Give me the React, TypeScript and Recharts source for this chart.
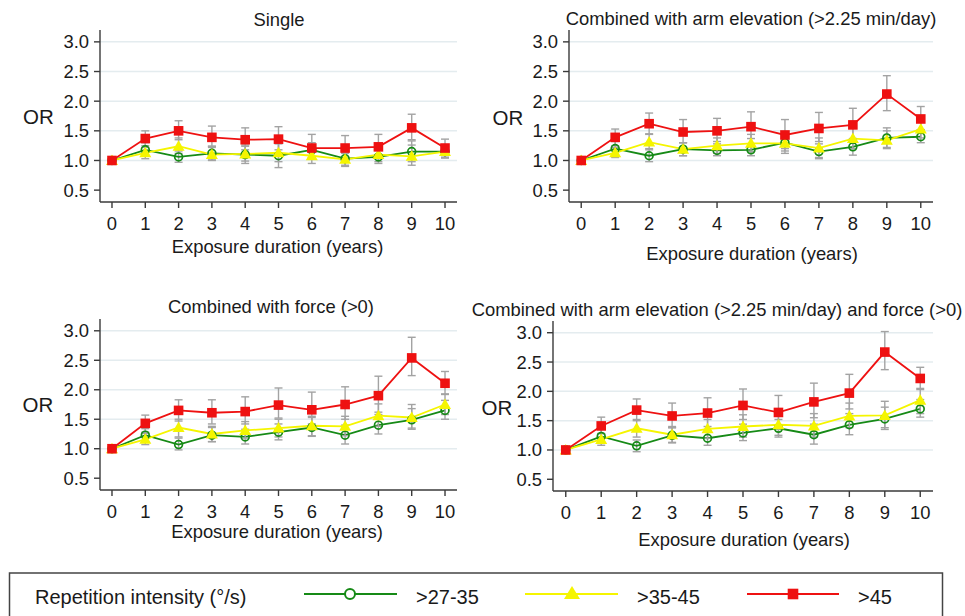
import React from 'react';
import { LineChart, Line, XAxis, YAxis, CartesianGrid, ErrorBar } from 'recharts';

const years = [0, 1, 2, 3, 4, 5, 6, 7, 8, 9, 10];
const yTicks = [0.5, 1.0, 1.5, 2.0, 2.5, 3.0];
const gridValues = [1.0, 1.5, 2.0, 2.5, 3.0];

const panelTitles = [
  'Single',
  'Combined with arm elevation (>2.25 min/day)',
  'Combined with force (>0)',
  'Combined with arm elevation (>2.25 min/day) and force (>0)',
];
const xAxisTitle = 'Exposure duration (years)';
const yAxisTitle = 'OR';
const legendTitle = 'Repetition intensity (°/s)';
const seriesNames = ['>27-35', '>35-45', '>45'];

// Single
const singleGreen = [1.0, 1.18, 1.06, 1.12, 1.1, 1.08, 1.18, 1.03, 1.06, 1.15, 1.15];
const singleGreenLo = [null, 1.08, 0.97, 1.01, 0.95, 0.88, 1.05, 0.92, 0.95, 0.98, 1.05];
const singleGreenHi = [null, 1.3, 1.16, 1.24, 1.24, 1.3, 1.3, 1.13, 1.18, 1.33, 1.25];
const singleYellow = [1.0, 1.13, 1.24, 1.1, 1.11, 1.13, 1.08, 1.02, 1.1, 1.07, 1.15];
const singleYellowLo = [null, 1.03, 1.12, 1.0, 0.99, 0.98, 0.95, 0.9, 0.98, 0.92, 1.04];
const singleYellowHi = [null, 1.22, 1.38, 1.24, 1.26, 1.28, 1.22, 1.12, 1.22, 1.26, 1.25];
const singleRed = [1.0, 1.37, 1.5, 1.39, 1.35, 1.36, 1.21, 1.21, 1.23, 1.55, 1.21];
const singleRedLo = [null, 1.25, 1.35, 1.22, 1.18, 1.18, 1.05, 1.03, 1.06, 1.35, 1.08];
const singleRedHi = [null, 1.5, 1.67, 1.58, 1.55, 1.57, 1.44, 1.42, 1.44, 1.78, 1.36];

// Combined with arm elevation
const armGreen = [1.0, 1.2, 1.08, 1.19, 1.17, 1.18, 1.3, 1.15, 1.23, 1.38, 1.4];
const armGreenLo = [null, 1.08, 0.98, 1.08, 1.08, 1.08, 1.16, 1.03, 1.09, 1.22, 1.3];
const armGreenHi = [null, 1.32, 1.2, 1.3, 1.28, 1.28, 1.45, 1.28, 1.37, 1.55, 1.52];
const armYellow = [1.0, 1.13, 1.31, 1.19, 1.25, 1.29, 1.29, 1.21, 1.37, 1.34, 1.53];
const armYellowLo = [null, 1.05, 1.18, 1.08, 1.12, 1.15, 1.12, 1.05, 1.2, 1.2, 1.38];
const armYellowHi = [null, 1.22, 1.44, 1.3, 1.38, 1.44, 1.47, 1.38, 1.55, 1.5, 1.68];
const armRed = [1.0, 1.39, 1.62, 1.48, 1.5, 1.57, 1.43, 1.54, 1.6, 2.12, 1.7];
const armRedLo = [null, 1.25, 1.45, 1.3, 1.32, 1.37, 1.2, 1.32, 1.36, 1.84, 1.52];
const armRedHi = [null, 1.53, 1.8, 1.69, 1.71, 1.82, 1.69, 1.81, 1.88, 2.43, 1.91];

// Combined with force
const forceGreen = [1.0, 1.23, 1.07, 1.23, 1.2, 1.28, 1.36, 1.23, 1.4, 1.49, 1.65];
const forceGreenLo = [null, 1.12, 0.98, 1.12, 1.08, 1.15, 1.21, 1.08, 1.25, 1.33, 1.5];
const forceGreenHi = [null, 1.34, 1.18, 1.36, 1.33, 1.42, 1.53, 1.4, 1.58, 1.68, 1.82];
const forceYellow = [1.0, 1.16, 1.36, 1.25, 1.31, 1.35, 1.39, 1.38, 1.56, 1.53, 1.75];
const forceYellowLo = [null, 1.07, 1.2, 1.12, 1.18, 1.2, 1.22, 1.22, 1.38, 1.35, 1.58];
const forceYellowHi = [null, 1.26, 1.5, 1.38, 1.46, 1.5, 1.55, 1.55, 1.76, 1.75, 1.93];
const forceRed = [1.0, 1.43, 1.65, 1.61, 1.63, 1.74, 1.66, 1.75, 1.9, 2.54, 2.11];
const forceRedLo = [null, 1.28, 1.47, 1.42, 1.42, 1.52, 1.42, 1.5, 1.62, 2.24, 1.92];
const forceRedHi = [null, 1.57, 1.83, 1.83, 1.88, 2.03, 1.96, 2.05, 2.23, 2.89, 2.31];

// Combined with arm elevation and force
const bothGreen = [1.0, 1.23, 1.07, 1.25, 1.2, 1.29, 1.37, 1.26, 1.43, 1.53, 1.7];
const bothGreenLo = [null, 1.12, 0.97, 1.12, 1.08, 1.16, 1.22, 1.1, 1.26, 1.35, 1.56];
const bothGreenHi = [null, 1.35, 1.17, 1.38, 1.33, 1.44, 1.52, 1.44, 1.62, 1.73, 1.86];
const bothYellow = [1.0, 1.18, 1.37, 1.26, 1.36, 1.4, 1.43, 1.41, 1.58, 1.59, 1.85];
const bothYellowLo = [null, 1.08, 1.22, 1.13, 1.2, 1.22, 1.25, 1.22, 1.38, 1.38, 1.62];
const bothYellowHi = [null, 1.28, 1.52, 1.4, 1.52, 1.6, 1.6, 1.62, 1.8, 1.83, 2.05];
const bothRed = [1.0, 1.41, 1.68, 1.58, 1.63, 1.76, 1.64, 1.82, 1.97, 2.67, 2.22];
const bothRedLo = [null, 1.28, 1.5, 1.38, 1.4, 1.52, 1.4, 1.55, 1.7, 2.37, 2.03];
const bothRedHi = [null, 1.56, 1.87, 1.8, 1.89, 2.04, 1.93, 2.14, 2.29, 3.02, 2.41];

const GREEN = '#168a16';
const YELLOW = '#f5f500';
const RED = '#ee1111';
const ERR = '#a3a3a3';
const AXIS = '#3a3a3a';
const FONT = '"Liberation Sans", Arial, sans-serif';

const err = (v: number[], lo: (number | null)[], hi: (number | null)[], i: number) =>
  lo[i] == null || hi[i] == null ? null : [v[i] - (lo[i] as number), (hi[i] as number) - v[i]];

const buildRows = (g, gLo, gHi, y, yLo, yHi, r, rLo, rHi) =>
  years.map((yr, i) => ({
    year: yr,
    green: g[i],
    greenErr: err(g, gLo, gHi, i),
    yellow: y[i],
    yellowErr: err(y, yLo, yHi, i),
    red: r[i],
    redErr: err(r, rLo, rHi, i),
  }));

const panelData = [
  buildRows(singleGreen, singleGreenLo, singleGreenHi, singleYellow, singleYellowLo, singleYellowHi, singleRed, singleRedLo, singleRedHi),
  buildRows(armGreen, armGreenLo, armGreenHi, armYellow, armYellowLo, armYellowHi, armRed, armRedLo, armRedHi),
  buildRows(forceGreen, forceGreenLo, forceGreenHi, forceYellow, forceYellowLo, forceYellowHi, forceRed, forceRedLo, forceRedHi),
  buildRows(bothGreen, bothGreenLo, bothGreenHi, bothYellow, bothYellowLo, bothYellowHi, bothRed, bothRedLo, bothRedHi),
];

// plot-area placement and text anchors for each panel
const layout = [
  { left: 100, top: 30, w: 357, h: 172, titleX: 279, titleY: 19.5, xlabX: 277.5, xlabY: 246, orX: 23, orY: 116.5 },
  { left: 569, top: 30, w: 364, h: 172, titleX: 751, titleY: 18.5, xlabX: 752, xlabY: 253, orX: 492.5, orY: 118 },
  { left: 100, top: 319, w: 357, h: 171, titleX: 271, titleY: 306.5, xlabX: 277, xlabY: 531.5, orX: 22.5, orY: 404.5 },
  { left: 553, top: 320.5, w: 380, h: 170, titleX: 717, titleY: 309.5, xlabX: 744, xlabY: 539.5, orX: 481.5, orY: 407.5 },
];

const YW = 60;
const XH = 40;
const TICK_FS = 18.4;

const CircleDot = (props: any) => {
  const { cx, cy, index } = props;
  if (cx == null || cy == null) return <g key={`c${index}`} />;
  return <circle key={`c${index}`} cx={cx} cy={cy} r={3.9} fill="none" stroke={GREEN} strokeWidth={1.7} />;
};

const TriangleDot = (props: any) => {
  const { cx, cy, index } = props;
  if (cx == null || cy == null) return <g key={`t${index}`} />;
  return (
    <polygon
      key={`t${index}`}
      points={`${cx},${cy - 6} ${cx - 6},${cy + 4.5} ${cx + 6},${cy + 4.5}`}
      fill={YELLOW}
    />
  );
};

const SquareDot = (props: any) => {
  const { cx, cy, index } = props;
  if (cx == null || cy == null) return <g key={`s${index}`} />;
  return <rect key={`s${index}`} x={cx - 4.8} y={cy - 4.8} width={9.6} height={9.6} fill={RED} />;
};

const Panel = ({ idx }: { idx: number }) => {
  const p = layout[idx];
  return (
    <div style={{ position: 'absolute', left: p.left - YW, top: p.top }}>
      <LineChart
        width={YW + p.w}
        height={p.h + XH}
        data={panelData[idx]}
        margin={{ top: 0, right: 0, bottom: 0, left: 0 }}
      >
        <CartesianGrid horizontal vertical={false} horizontalValues={gridValues} stroke="#e4ecef" strokeWidth={1.5} />
        <XAxis
          type="number"
          dataKey="year"
          domain={[-0.36, 10.36]}
          ticks={years}
          interval={0}
          allowDataOverflow
          height={XH}
          tickSize={6}
          tickMargin={9}
          stroke={AXIS}
          strokeWidth={1.4}
          tick={{ fill: '#1a1a1a', fontSize: TICK_FS, fontFamily: FONT }}
        />
        <YAxis
          type="number"
          domain={[0.3, 3.2]}
          ticks={yTicks}
          interval={0}
          allowDataOverflow
          width={YW}
          tickSize={6}
          tickMargin={5}
          stroke={AXIS}
          strokeWidth={1.4}
          tickFormatter={(v: number) => v.toFixed(1)}
          tick={{ fill: '#1a1a1a', fontSize: TICK_FS, fontFamily: FONT }}
        />
        <Line dataKey="green" stroke={GREEN} strokeWidth={1.8} dot={CircleDot} activeDot={false} isAnimationActive={false}>
          <ErrorBar dataKey="greenErr" direction="y" width={4} stroke={ERR} strokeWidth={1.4} isAnimationActive={false} />
        </Line>
        <Line dataKey="yellow" stroke={YELLOW} strokeWidth={1.8} dot={TriangleDot} activeDot={false} isAnimationActive={false}>
          <ErrorBar dataKey="yellowErr" direction="y" width={4} stroke={ERR} strokeWidth={1.4} isAnimationActive={false} />
        </Line>
        <Line dataKey="red" stroke={RED} strokeWidth={1.8} dot={SquareDot} activeDot={false} isAnimationActive={false}>
          <ErrorBar dataKey="redErr" direction="y" width={4} stroke={ERR} strokeWidth={1.4} isAnimationActive={false} />
        </Line>
      </LineChart>
    </div>
  );
};

const legendItems = [
  { name: seriesNames[0], color: GREEN, x1: 304, x2: 397, mx: 350, tx: 416, marker: 'circle' },
  { name: seriesNames[1], color: YELLOW, x1: 525, x2: 618, mx: 572, tx: 637, marker: 'triangle' },
  { name: seriesNames[2], color: RED, x1: 747, x2: 839, mx: 793, tx: 858, marker: 'square' },
];

const Overlay = () => {
  const ly = 594;
  return (
    <svg width={965} height={616} style={{ position: 'absolute', left: 0, top: 0, pointerEvents: 'none' }}>
      {layout.map((p, i) => (
        <g key={i} fontFamily={FONT} fill="#1a1a1a">
          <text x={p.titleX} y={p.titleY + 6.6} fontSize={18.4} textAnchor="middle">{panelTitles[i]}</text>
          <text x={p.xlabX} y={p.xlabY + 6.6} fontSize={18.4} textAnchor="middle">{xAxisTitle}</text>
          <text x={p.orX} y={p.orY + 7.2} fontSize={20.5}>{yAxisTitle}</text>
        </g>
      ))}
      <rect x={9.5} y={573} width={933} height={60} fill="none" stroke="#444" strokeWidth={1.5} />
      <text x={35} y={596.7 + 7.2} fontSize={20} fontFamily={FONT} fill="#1a1a1a">{legendTitle}</text>
      {legendItems.map((it) => (
        <g key={it.name}>
          <line x1={it.x1} x2={it.x2} y1={ly} y2={ly} stroke={it.color} strokeWidth={2} />
          {it.marker === 'circle' && <circle cx={it.mx} cy={ly} r={5} fill="#fff" stroke={it.color} strokeWidth={2} />}
          {it.marker === 'triangle' && (
            <polygon points={`${it.mx},${ly - 8} ${it.mx - 8},${ly + 5} ${it.mx + 8},${ly + 5}`} fill={it.color} />
          )}
          {it.marker === 'square' && <rect x={it.mx - 5.3} y={ly - 5.3} width={10.6} height={10.6} fill={it.color} />}
          <text x={it.tx} y={596.7 + 7.2} fontSize={20} fontFamily={FONT} fill="#1a1a1a">{it.name}</text>
        </g>
      ))}
    </svg>
  );
};

export default function App() {
  return (
    <div style={{ position: 'absolute', left: 0, top: 0, width: 965, height: 616, overflow: 'hidden', background: '#fff' }}>
      {layout.map((_, i) => (
        <Panel key={i} idx={i} />
      ))}
      <Overlay />
    </div>
  );
}
